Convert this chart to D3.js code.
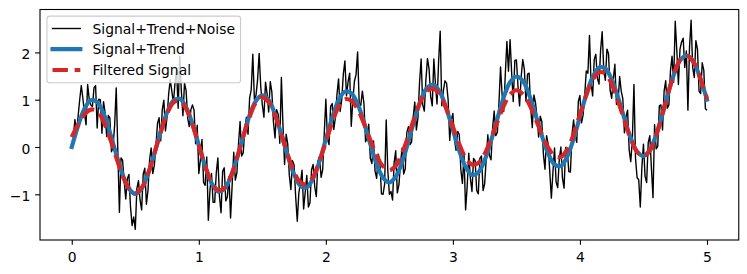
<!DOCTYPE html>
<html><head><meta charset="utf-8">
<script src="https://cdn.jsdelivr.net/npm/d3@7"></script>
<style>body{margin:0;background:#fff}</style>
</head><body>
<svg id="chart" width="747" height="274"></svg>
<script>
// ---- data ----
const noisyStep = 0.0125;   // sample spacing (s) of the noisy trace
const noisyValues = [
 0.25, 0.22, 0.58, 0.29, 0.65, 1.00, 1.30, 1.03, 0.71, 0.47,
 1.32, 1.01, 0.89, 0.85, 1.25, 1.30, 0.40, 1.01, 1.00, 0.29,
 0.96, 0.72, 0.22, 0.67, 0.61, -0.10, 0.00, 0.46, 1.25, -0.07,
 -1.38, -0.23, -0.28, -0.72, -1.10, -0.67, -0.58, -1.27, -1.66, -1.48,
 -1.74, -0.88, -0.71, -1.12, -1.33, -0.57, -0.45, -1.21, -0.92, -0.27,
 -0.02, -0.56, -0.39, 0.03, 0.50, 0.62, 0.13, 0.79, 0.99, 0.34,
 0.63, 1.11, 1.43, 1.18, 0.93, 1.35, 1.62, 0.82, 1.92, 1.19,
 0.66, 1.35, 1.19, 0.61, 0.43, 0.79, 0.89, 0.78, 0.07, 0.46,
 -0.56, -0.28, 0.16, -0.75, -0.81, -0.21, -1.55, -0.93, -0.56, -1.17,
 -1.17, -0.55, -0.23, -1.04, -1.39, -0.52, -0.44, -1.14, -1.05, -0.62,
 -1.50, -0.80, -0.11, -0.70, -0.54, 0.07, 0.54, -0.19, -0.12, 0.40,
 0.63, 0.27, 1.04, 1.21, 1.96, 1.01, 1.09, 1.42, 1.98, 1.28,
 0.89, 0.63, 1.37, 1.13, 0.74, 1.38, 1.16, 0.53, 0.19, 0.79,
 0.69, 0.08, 1.47, 0.45, -0.37, 0.27, 0.06, -0.60, -0.90, -0.29,
 -0.38, -1.05, -1.57, -0.97, -0.77, -0.49, -1.31, -0.96, -0.60, -1.27,
 -1.18, -0.48, -0.37, -0.84, -1.05, -0.30, -0.20, -0.64, -0.48, 0.29,
 1.01, 0.18, 0.05, 0.86, 0.92, 0.37, 0.62, 1.11, 1.44, 0.75,
 1.00, 1.54, 1.82, 1.08, 1.38, 1.56, 0.44, 0.99, 1.39, 1.53,
 2.01, 0.92, 0.88, 1.18, 0.92, 0.11, 0.19, 0.48, -0.24, -0.35,
 0.13, -0.51, -0.66, -0.15, -0.28, -0.99, -1.00, -0.79, 0.57, -0.49,
 -1.00, -0.94, -1.12, -0.33, -0.08, -0.97, -0.80, -0.36, -0.02, -0.57,
 -0.46, 0.31, 0.43, 0.05, 0.11, 0.63, 0.95, 0.36, 0.62, 1.37,
 1.86, 0.89, 0.76, 1.42, 1.87, 1.65, 1.07, 0.87, 1.86, 1.34,
 0.91, 1.81, 2.45, 0.87, 1.19, 1.40, 1.35, 1.00, 0.14, 0.58,
 0.71, 0.15, -0.07, 0.33, 0.27, -0.48, -0.77, -0.15, -1.33, -0.83,
 -0.13, -0.66, -0.94, -0.24, -0.29, -0.92, -0.99, -0.24, -0.19, -0.92,
 -0.78, -0.24, 0.26, -0.18, -0.27, 0.40, 0.76, 0.24, 0.31, 0.93,
 1.69, 1.10, 0.75, 1.54, 2.23, 1.60, 2.27, 1.57, 0.96, 1.83,
 1.84, 1.28, 0.87, 1.49, 1.85, 1.64, 0.97, 1.54, 1.56, 0.81,
 0.41, 1.10, 0.94, 0.63, 0.21, 0.65, 0.54, -0.16, -0.47, 0.24,
 0.06, -0.52, -1.08, -0.53, -0.02, -0.74, -0.86, -0.26, 0.00, -0.66,
 -0.87, -0.01, -0.05, -0.52, -0.53, 0.27, 0.57, 0.24, 0.10, 0.97,
 1.09, 0.51, 0.68, 1.10, 1.61, 1.56, 2.36, 1.35, 1.08, 1.85,
 1.96, 1.45, 1.33, 2.04, 2.44, 1.63, 1.41, 2.07, 1.97, 1.20,
 1.03, 1.44, 1.75, 0.90, 0.95, 1.49, 1.18, 1.02, 0.30, 0.64,
 0.78, -0.06, -0.31, 0.16, 1.32, -0.24, -0.65, -0.69, -1.27, -0.43,
 0.06, -0.62, -0.75, 0.09, 0.24, -0.44, -1.07, 0.47, -0.04, 0.02,
 0.87, 0.89, 0.36, 1.18, 1.40, 0.82, 0.89, 1.61, 1.92, 1.37,
 2.66, 2.04, 1.32, 2.07, 2.22, 2.30, 1.68, 2.03, 0.78, 2.11,
 2.68, 1.68, 1.47, 2.25, 2.07, 1.18, 1.13, 1.78, 1.62, 0.81,
 0.78
];
const smoothStep = 0.05;   // sample spacing (s) of the smooth traces
const signalTrendValues = [
 0, 0.45, 0.81, 0.99, 0.95, 0.71, 0.31, -0.15, -0.58, -0.88,
 -0.99, -0.88, -0.57, -0.14, 0.33, 0.73, 0.98, 1.02, 0.84, 0.49,
 0.04, -0.41, -0.76, -0.94, -0.89, -0.64, -0.24, 0.23, 0.67, 0.98,
 1.09, 0.99, 0.69, 0.26, -0.19, -0.58, -0.82, -0.85, -0.66, -0.30,
 0.16, 0.62, 0.99, 1.17, 1.14, 0.91, 0.52, 0.06, -0.36, -0.65,
 -0.75, -0.63, -0.32, 0.12, 0.60, 1.01, 1.26, 1.31, 1.15, 0.80,
 0.36, -0.08, -0.42, -0.59, -0.54, -0.28, 0.13, 0.60, 1.05, 1.37,
 1.49, 1.40, 1.11, 0.69, 0.24, -0.14, -0.37, -0.40, -0.20, 0.17,
 0.64, 1.11, 1.48, 1.68, 1.66, 1.43, 1.05, 0.60, 0.19, -0.10,
 -0.19, -0.06, 0.26, 0.71, 1.19, 1.61, 1.87, 1.93, 1.77, 1.43,
 1.00
];
const filteredValues = [
 0.21, 0.48, 0.69, 0.79, 0.76, 0.54, 0.19, -0.22, -0.61, -0.87,
 -0.97, -0.86, -0.57, -0.14, 0.31, 0.70, 0.94, 0.98, 0.81, 0.47,
 0.04, -0.40, -0.74, -0.91, -0.87, -0.63, -0.24, 0.22, 0.64, 0.94,
 1.05, 0.95, 0.67, 0.27, -0.16, -0.53, -0.75, -0.79, -0.63, -0.30,
 0.11, 0.52, 0.85, 1.01, 0.98, 0.80, 0.50, 0.15, -0.18, -0.41,
 -0.49, -0.40, -0.13, 0.24, 0.64, 0.99, 1.20, 1.23, 1.09, 0.80,
 0.43, 0.06, -0.23, -0.37, -0.34, -0.15, 0.17, 0.53, 0.87, 1.11,
 1.20, 1.12, 0.91, 0.60, 0.27, -0.01, -0.19, -0.21, -0.05, 0.27,
 0.69, 1.10, 1.42, 1.58, 1.55, 1.33, 0.97, 0.56, 0.17, -0.10,
 -0.20, -0.08, 0.24, 0.70, 1.19, 1.62, 1.88, 1.92, 1.77, 1.43,
 1.02
];
const xTicks = [0, 1, 2, 3, 4, 5];
const yTicks = [-1, 0, 1, 2];
const seriesLabels = ["Signal+Trend+Noise", "Signal+Trend", "Filtered Signal"];

// ---- layout ----
const FS = 13.9;
const plot = {left: 40, right: 738.75, top: 9.5, bottom: 240};
const svg = d3.select("#chart");
const x = d3.scaleLinear().domain([-0.25, 5.25]).range([plot.left, plot.right]);
const y = d3.scaleLinear().domain([-1.966, 2.907]).range([plot.bottom, plot.top]);

const toPts = (vals, step) => vals.map((v, i) => [i * step, v]);
const noisy = toPts(noisyValues, noisyStep);
const sigTrend = toPts(signalTrendValues, smoothStep);
const filtered = toPts(filteredValues, smoothStep);

svg.append("defs").append("clipPath").attr("id", "clip")
  .append("rect").attr("x", plot.left).attr("y", plot.top)
  .attr("width", plot.right - plot.left).attr("height", plot.bottom - plot.top);

const lineStraight = d3.line().x(d => x(d[0])).y(d => y(d[1]));
const lineSmooth = d3.line().x(d => x(d[0])).y(d => y(d[1])).curve(d3.curveCatmullRom.alpha(0.5));

const g = svg.append("g").attr("clip-path", "url(#clip)");
g.append("path").datum(noisy).attr("d", lineStraight)
  .attr("fill", "none").attr("stroke", "#000").attr("stroke-width", 1.39).attr("stroke-linejoin", "round");
g.append("path").datum(sigTrend).attr("d", lineSmooth)
  .attr("fill", "none").attr("stroke", "#1f77b4").attr("stroke-width", 4.17)
  .attr("stroke-linejoin", "round").attr("stroke-linecap", "square");
g.append("path").datum(filtered).attr("d", lineSmooth)
  .attr("fill", "none").attr("stroke", "#d62728").attr("stroke-width", 4.17)
  .attr("stroke-dasharray", "15.4 6.7").attr("stroke-linejoin", "round");

// axes
const fmt = d3.format("");
const xAxis = d3.axisBottom(x).tickValues(xTicks).tickSize(4.86).tickPadding(4.86).tickFormat(fmt);
const yAxis = d3.axisLeft(y).tickValues(yTicks).tickSize(4.86).tickPadding(4.86).tickFormat(fmt);
const gx = svg.append("g").attr("transform", `translate(0,${plot.bottom})`).call(xAxis);
const gy = svg.append("g").attr("transform", `translate(${plot.left},0)`).call(yAxis);
[gx, gy].forEach(a => {
  a.select(".domain").remove();
  a.selectAll(".tick line").attr("stroke", "#000").attr("stroke-width", 1.1);
  a.selectAll(".tick text").attr("fill", "#000")
    .style("font-family", "'DejaVu Sans', sans-serif").style("font-size", FS + "px");
});
gx.selectAll(".tick text").attr("y", 22).attr("dy", 0);
gy.selectAll(".tick text").attr("dy", "0.44em");

// frame
svg.append("rect").attr("x", plot.left).attr("y", plot.top)
  .attr("width", plot.right - plot.left).attr("height", plot.bottom - plot.top)
  .attr("fill", "none").attr("stroke", "#000").attr("stroke-width", 1.1);

// legend
const lg = svg.append("g");
const lx = plot.left + 6.95, ly = plot.top + 6.6;
const frame = lg.append("rect").attr("x", lx).attr("y", ly).attr("rx", 2.8).attr("ry", 2.8)
  .attr("fill", "#fff").attr("fill-opacity", 0.8).attr("stroke", "#ccc").attr("stroke-width", 1.1);
const rowsY = [28.5, 49.2, 70];
const styles = [
  {stroke: "#000", w: 1.39, dash: null},
  {stroke: "#1f77b4", w: 4.17, dash: null},
  {stroke: "#d62728", w: 4.17, dash: "15.4 6.7"}
];
let maxW = 0;
seriesLabels.forEach((lab, i) => {
  const l = lg.append("line").attr("x1", lx + 5.56).attr("x2", lx + 5.56 + 27.8)
    .attr("y1", rowsY[i]).attr("y2", rowsY[i])
    .attr("stroke", styles[i].stroke).attr("stroke-width", styles[i].w);
  if (styles[i].dash) l.attr("stroke-dasharray", styles[i].dash);
  else l.attr("stroke-linecap", "square");
  const t = lg.append("text").attr("x", lx + 5.56 + 27.8 + 12.2).attr("y", rowsY[i])
    .attr("dy", "0.36em").attr("fill", "#000")
    .style("font-family", "'DejaVu Sans', sans-serif").style("font-size", FS + "px").text(lab);
  maxW = Math.max(maxW, t.node().getComputedTextLength());
});
frame.attr("width", 5.56 + 27.8 + 12.2 + maxW + 5.56).attr("height", 82.7 - ly);
</script>
</body></html>
